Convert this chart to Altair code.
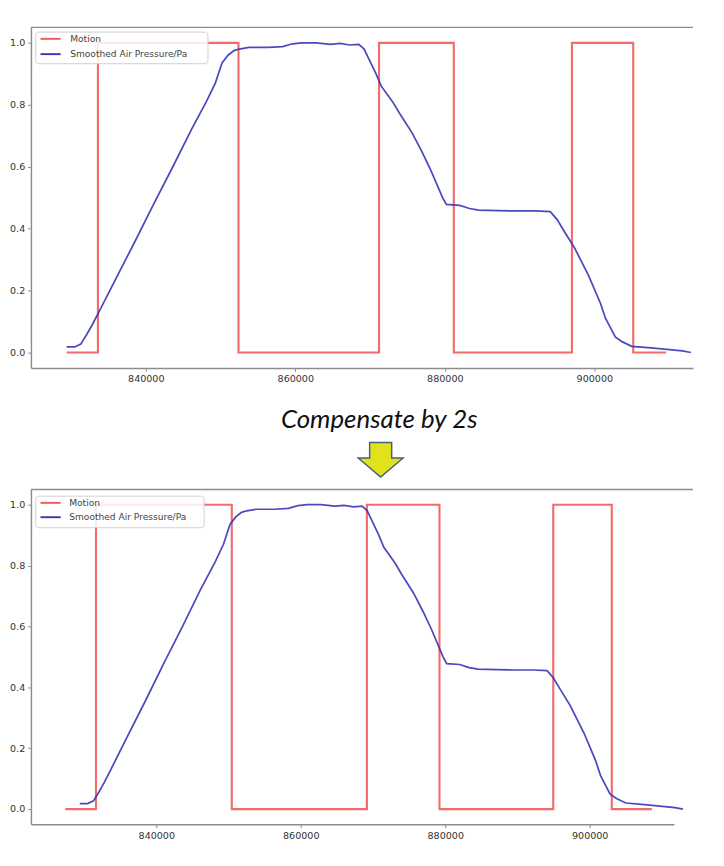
import altair as alt
import pandas as pd

# ---------------- data ----------------
pressure_time = [829400, 830500, 831300, 832100, 832800, 833600, 835900, 838500,
                 841000, 843600, 846100, 848100, 849300, 850200, 851000, 851800,
                 852500, 853800, 856400, 858300, 859600, 860900, 862800, 864700,
                 866000, 867300, 868500, 869200, 869800, 870800, 871500, 873000,
                 874000, 875600, 876900, 878100, 879700, 880200, 882000, 883300,
                 884500, 887100, 889600, 892200, 894100, 895000, 896000, 897300,
                 899200, 900800, 901500, 902800, 903700, 905000, 907600, 909700,
                 911800, 912900]
pressure_value = [0.018, 0.018, 0.027, 0.058, 0.088, 0.125, 0.234, 0.356,
                  0.477, 0.599, 0.720, 0.810, 0.870, 0.935, 0.960, 0.975,
                  0.980, 0.985, 0.985, 0.988, 0.997, 1.000, 1.000, 0.995,
                  0.998, 0.993, 0.995, 0.980, 0.950, 0.900, 0.860, 0.810,
                  0.770, 0.710, 0.650, 0.590, 0.500, 0.478, 0.475, 0.465,
                  0.460, 0.458, 0.457, 0.457, 0.455, 0.430, 0.390, 0.340,
                  0.250, 0.160, 0.110, 0.050, 0.035, 0.020, 0.015, 0.010,
                  0.005, 0.000]

motion_time_before = [829400, 833600, 852400, 871200, 881200, 897000, 905200, 909600]
motion_value_before = [0, 1, 0, 1, 0, 1, 0, 0]
motion_time_after = [827400, 831650, 850450, 869150, 879200, 894950, 903050, 908600]
motion_value_after = [0, 1, 0, 1, 0, 1, 0, 0]

series_names = ["Motion", "Smoothed Air Pressure/Pa"]
series_colors = ["#f25a5a", "#3636b6"]
x_tick_values = [840000, 860000, 880000, 900000]
y_tick_values = [0.0, 0.2, 0.4, 0.6, 0.8, 1.0]
caption = "Compensate by 2s"

# ---------------- styling ----------------
FONT = "DejaVu Sans"
AX = "#8c8c8c"
ARROW = "M -0.49 -0.77 L 0.49 -0.77 L 0.49 -0.08 L 1 -0.08 L 0 0.77 L -1 -0.08 L -0.49 -0.08 Z"


def one():
    return alt.Data(values=[{"k": 0}])


def panel(m_t, m_v, x_domain, width, height, x_extent, rule_len, leg):
    xs = alt.Scale(domain=x_domain, nice=False, zero=False)
    ys = alt.Scale(domain=[-0.05, 1.05], nice=False, zero=False)
    xaxis = alt.Axis(values=x_tick_values, format="d", title=None, grid=False,
                     tickSize=3.5, tickColor=AX, domainColor=AX, domainWidth=1.5,
                     labelColor="#333333", labelFont=FONT, labelFontSize=10,
                     labelPadding=3, minExtent=x_extent, maxExtent=x_extent)
    yaxis = alt.Axis(values=y_tick_values, format=".1f", title=None, grid=False,
                     tickSize=3.5, tickColor=AX, domainColor=AX, domainWidth=1.5,
                     labelColor="#333333", labelFont=FONT, labelFontSize=10,
                     labelPadding=3, minExtent=24, maxExtent=24)
    mdf = pd.DataFrame({"t": m_t, "v": m_v})
    pdf = pd.DataFrame({"t": pressure_time, "v": pressure_value})

    motion = alt.Chart(mdf).mark_line(
        interpolate="step-after", color=series_colors[0], strokeWidth=2.2, opacity=0.9
    ).encode(x=alt.X("t:Q", scale=xs, axis=xaxis), y=alt.Y("v:Q", scale=ys, axis=yaxis))
    pressure = alt.Chart(pdf).mark_line(
        color=series_colors[1], strokeWidth=1.8, opacity=0.9
    ).encode(x="t:Q", y="v:Q")

    top_rule = alt.Chart(one()).mark_rule(color=AX, strokeWidth=1.5).encode(
        x=alt.value(0), x2=alt.value(rule_len), y=alt.value(0))

    bx0, by0, bx1, by1, lx0, lx1, ly, tx = leg
    box = alt.Chart(one()).mark_rect(
        fill="white", fillOpacity=0.85, stroke="#cfcfcf", strokeWidth=1, cornerRadius=3
    ).encode(x=alt.value(bx0), x2=alt.value(bx1), y=alt.value(by0), y2=alt.value(by1))

    layers = [motion, pressure, top_rule, box]
    for i, name in enumerate(series_names):
        layers.append(alt.Chart(one()).mark_rule(color=series_colors[i], strokeWidth=2).encode(
            x=alt.value(lx0), x2=alt.value(lx1), y=alt.value(ly[i])))
        layers.append(alt.Chart(one()).mark_text(
            font=FONT, fontSize=9.5, color="#444444", align="left", baseline="middle"
        ).encode(x=alt.value(tx), y=alt.value(ly[i]), text=alt.value(name)))
    return alt.layer(*layers).properties(width=width, height=height)


top_panel = panel(motion_time_before, motion_value_before, [824640, 913200],
                  692, 356, 18, 692,
                  (5, 5, 185, 38, 10, 31, [12, 28], 41))

bottom_panel = panel(motion_time_after, motion_value_after, [822650, 911650],
                     672, 350, 16, 692,
                     (5, 7, 181, 40, 10, 31, [14, 29], 40))

mid = alt.layer(
    alt.Chart(one()).mark_text(
        font="Lato", fontStyle="italic", fontSize=27, color="#111111",
        align="center", baseline="alphabetic"
    ).encode(x=alt.value(364), y=alt.value(45), text=alt.value(caption)),
    alt.Chart(one()).mark_point(
        shape=ARROW, size=2209, filled=True, fill="#e2e21c", stroke="#44607c",
        strokeWidth=1.5, opacity=1
    ).encode(x=alt.value(365.5), y=alt.value(78)),
).properties(width=716, height=108)

chart = alt.vconcat(top_panel, mid, bottom_panel, spacing=0).properties(
    padding=0
).configure_view(stroke=None)

chart.save("out.html", embed_options={"renderer": "svg", "actions": False})
